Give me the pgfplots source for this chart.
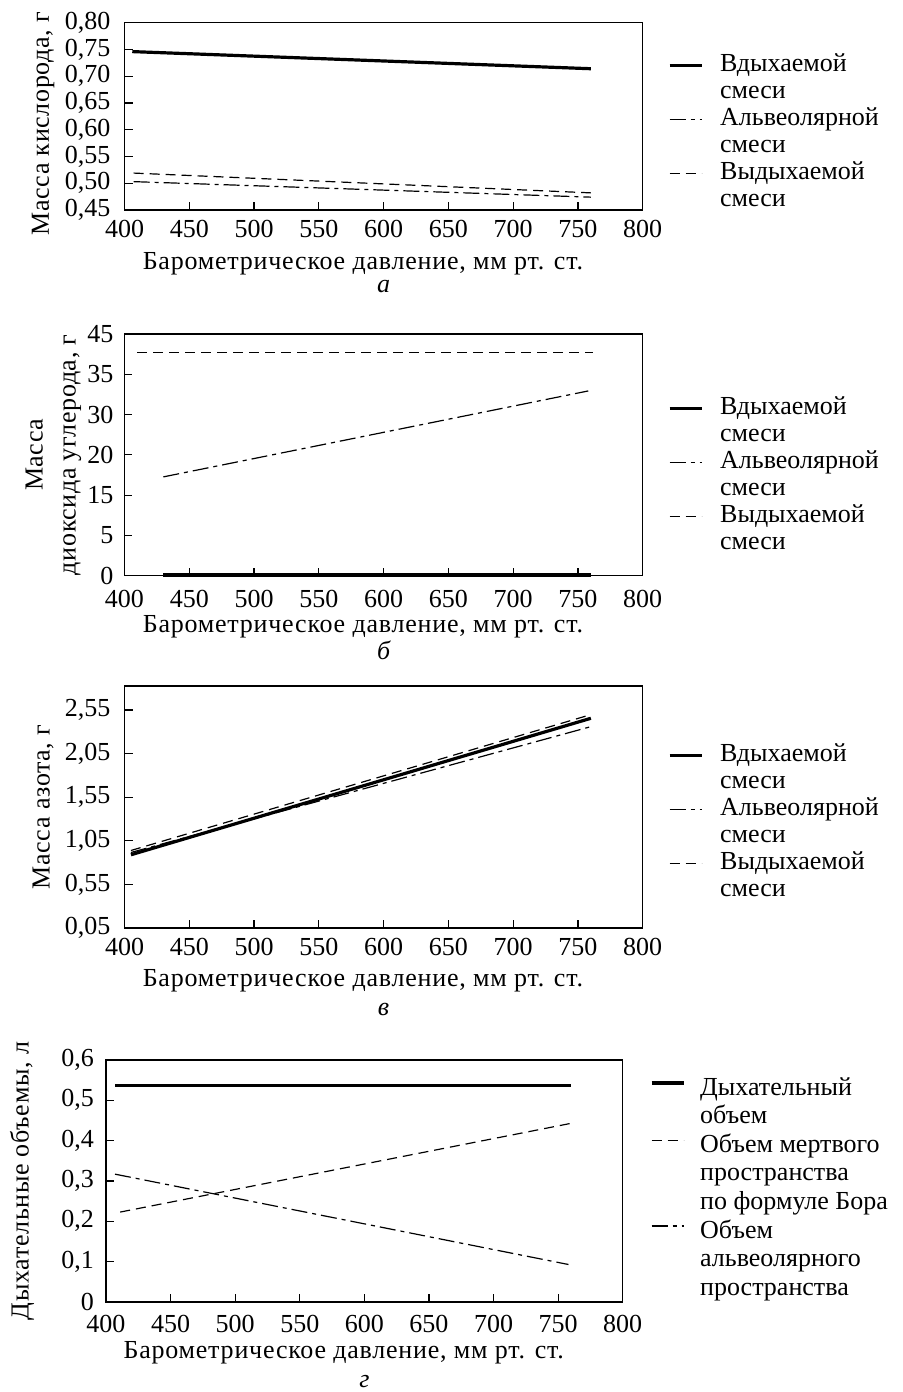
\documentclass[border=0pt]{standalone}
\usepackage{fontspec}
\setmainfont{Liberation Serif}
\usepackage{pgfplots}
\pgfplotsset{compat=1.18}
\newcommand\fs{\fontsize{13pt}{15pt}\selectfont}
\newcommand\fsl{\fontsize{13pt}{15pt}\selectfont\addfontfeatures{LetterSpace=3}}
\newcommand\fsy{\fontsize{13pt}{16.5pt}\selectfont\addfontfeatures{LetterSpace=2.5}}
\pgfplotsset{
 panel/.style={
  scale only axis, anchor=north west,
  xmin=400, xmax=800, xtick={400,450,500,550,600,650,700,750,800},
  tick align=inside, xtick pos=bottom, ytick pos=left,
  major tick length=4pt,
  axis line style={line width=0.7pt},
  tick style={black, line width=0.6pt},
  tick label style={font=\fs},
  /pgf/number format/assume math mode=true,
  /pgf/number format/set thousands separator={},
  xlabel style={font=\fsl},
  ylabel style={font=\fsy},
  clip=false,
  legend cell align=left,
  legend image code/.code={\draw[##1] (0pt,0pt) -- (16pt,0pt);},
  legend style={draw=none, fill=none, inner sep=0pt, outer sep=0pt,
    at={(rel axis cs:1,1)}, anchor=north west, row sep=0pt, column sep=8.5pt,
    font=\fs, nodes={inner sep=0pt, text height=9.5pt, text depth=4pt}},
 },
 thk/.style={black, line width=1.6pt},
 dsh/.style={black, line width=0.6pt, dash pattern=on 5pt off 3pt},
 dd/.style={black, line width=0.6pt, dash pattern=on 8pt off 2.5pt on 2pt off 2.5pt},
}
\begin{document}
\begin{tikzpicture}
\useasboundingbox (0,0) rectangle (451.5pt,-696pt);
% ---------- a ----------
\begin{axis}[panel, at={(62.25pt,-11.35pt)}, width=259.1pt, height=93.65pt,
 ymin=0.45, ymax=0.80, ytick={0.45,0.5,0.55,0.6,0.65,0.7,0.75,0.8},
 yticklabels={{0,45},{0,50},{0,55},{0,60},{0,65},{0,70},{0,75},{0,80}},
 yticklabel style={xshift=-3.5pt},
 xticklabel style={yshift=-1.5pt},
 ylabel={Масса кислорода, г},
 ylabel style={at={(axis description cs:-0.157,0.46)}, anchor=center},
 xlabel={Барометрическое давление, мм рт. ст.},
 xlabel style={at={(axis description cs:0.46,0)}, anchor=base, yshift=-30pt},
 legend style={xshift=12.65pt, yshift=-14.65pt}]
\addlegendimage{thk}\addlegendentry{Вдыхаемой}
\addlegendimage{empty legend}\addlegendentry{смеси}
\addlegendimage{dd}\addlegendentry{Альвеолярной}
\addlegendimage{empty legend}\addlegendentry{смеси}
\addlegendimage{dsh}\addlegendentry{Выдыхаемой}
\addlegendimage{empty legend}\addlegendentry{смеси}
\addplot[thk, forget plot] coordinates {(406,0.746) (760,0.714)};
\addplot[dd, forget plot] coordinates {(407,0.503) (760,0.474)};
\addplot[dsh, forget plot] coordinates {(407,0.519) (760,0.482)};
\node[anchor=base, font=\fs\itshape, yshift=-41.5pt] at (axis description cs:0.5,0) {а};
\end{axis}
% ---------- б ----------
\begin{axis}[panel, at={(62.25pt,-167pt)}, width=259.1pt, height=120.85pt,
 ymin=0, ymax=45, ytick={0,7.5,15,22.5,30,37.5,45},
 yticklabels={0,5,15,20,30,35,45},
 yticklabel style={xshift=-2pt},
 xticklabel style={yshift=-3.5pt},
 ylabel={Масса\\диоксида углерода, г},
 ylabel style={at={(axis description cs:-0.137,0.5)}, anchor=center, align=center},
 xlabel={Барометрическое давление, мм рт. ст.},
 xlabel style={at={(axis description cs:0.46,0)}, anchor=base, yshift=-28.2pt},
 legend style={xshift=12.65pt, yshift=-30.5pt}]
\addlegendimage{thk}\addlegendentry{Вдыхаемой}
\addlegendimage{empty legend}\addlegendentry{смеси}
\addlegendimage{dd}\addlegendentry{Альвеолярной}
\addlegendimage{empty legend}\addlegendentry{смеси}
\addlegendimage{dsh}\addlegendentry{Выдыхаемой}
\addlegendimage{empty legend}\addlegendentry{смеси}
\addplot[thk, forget plot] coordinates {(430,0.15) (760,0.15)};
\addplot[dd, forget plot] coordinates {(430,18.4) (758,34.4)};
\addplot[dsh, forget plot] coordinates {(410,41.5) (762,41.5)};
\node[anchor=base, font=\fs\itshape, yshift=-42pt] at (axis description cs:0.5,0) {б};
\end{axis}
% ---------- в ----------
\begin{axis}[panel, at={(62.25pt,-343pt)}, width=259.1pt, height=121pt,
 ymin=0.05, ymax=2.825, ytick={0.05,0.55,1.05,1.55,2.05,2.55},
 yticklabels={{0,05},{0,55},{1,05},{1,55},{2,05},{2,55}},
 yticklabel style={xshift=-3.5pt},
 xticklabel style={yshift=-1.5pt},
 ylabel={Масса азота, г},
 ylabel style={at={(axis description cs:-0.157,0.5)}, anchor=center},
 xlabel={Барометрическое давление, мм рт. ст.},
 xlabel style={at={(axis description cs:0.46,0)}, anchor=base, yshift=-29pt},
 legend style={xshift=12.65pt, yshift=-28pt}]
\addlegendimage{thk}\addlegendentry{Вдыхаемой}
\addlegendimage{empty legend}\addlegendentry{смеси}
\addlegendimage{dd}\addlegendentry{Альвеолярной}
\addlegendimage{empty legend}\addlegendentry{смеси}
\addlegendimage{dsh}\addlegendentry{Выдыхаемой}
\addlegendimage{empty legend}\addlegendentry{смеси}
\addplot[thk, forget plot] coordinates {(405,0.89) (760,2.455)};
\addplot[dd, forget plot] coordinates {(405,0.916) (760,2.359)};
\addplot[dsh, forget plot] coordinates {(405,0.939) (760,2.497)};
\node[anchor=base, font=\fs\itshape, yshift=-43.5pt] at (axis description cs:0.5,0) {в};
\end{axis}
% ---------- г ----------
\begin{axis}[panel, at={(53pt,-530pt)}, width=258.35pt, height=121pt,
 ymin=0, ymax=0.6, ytick={0,0.1,0.2,0.3,0.4,0.5,0.6},
 yticklabels={0,{0,1},{0,2},{0,3},{0,4},{0,5},{0,6}},
 yticklabel style={xshift=-2.5pt},
 xticklabel style={yshift=-3pt},
 ylabel={Дыхательные объемы, л},
 ylabel style={at={(axis description cs:-0.1625,0.5)}, anchor=center},
 xlabel={Барометрическое давление, мм рт. ст.},
 xlabel style={at={(axis description cs:0.46,0)}, anchor=base, yshift=-28pt},
 legend style={xshift=13.65pt, yshift=-7.2pt, column sep=7.5pt,
   nodes={inner sep=0pt, text height=10.3pt, text depth=4pt}},
 legend image post style={yshift=2.85pt}]
\addlegendimage{thk}\addlegendentry{Дыхательный}
\addlegendimage{empty legend}\addlegendentry{объем}
\addlegendimage{dsh}\addlegendentry{Объем мертвого}
\addlegendimage{empty legend}\addlegendentry{пространства}
\addlegendimage{empty legend}\addlegendentry{по формуле Бора}
\addlegendimage{dd}\addlegendentry{Объем}
\addlegendimage{empty legend}\addlegendentry{альвеолярного}
\addlegendimage{empty legend}\addlegendentry{пространства}
\addplot[thk, forget plot] coordinates {(407,0.537) (760,0.537)};
\addplot[dsh, forget plot] coordinates {(411,0.223) (760,0.443)};
\addplot[dd, forget plot] coordinates {(407,0.317) (758,0.093)};
\node[anchor=base, font=\fs\itshape, yshift=-42.5pt] at (axis description cs:0.5,0) {г};
\end{axis}
\end{tikzpicture}
\end{document}
